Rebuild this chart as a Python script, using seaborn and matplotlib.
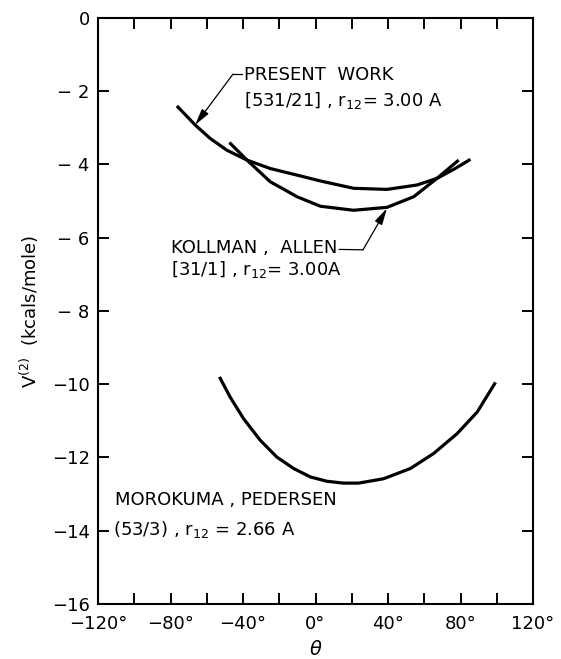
import numpy as np
import pandas as pd
import matplotlib
matplotlib.use("Agg")
import matplotlib.pyplot as plt
import seaborn as sns

# ---------------- data ----------------
present_theta = [-76.5, -66.4, -58.1, -48.9, -37.8, -25.0, -10.2, 2.7, 21.0, 39.5, 56.0, 67.0, 76.0, 85.5]
present_v = [-2.40, -2.92, -3.29, -3.61, -3.88, -4.11, -4.29, -4.45, -4.65, -4.68, -4.56, -4.38, -4.14, -3.86]

kollman_theta = [-47.5, -37.8, -25.0, -10.2, 2.7, 21.0, 39.5, 54.2, 67.0, 79.0]
kollman_v = [-3.40, -3.88, -4.47, -4.88, -5.14, -5.25, -5.17, -4.88, -4.38, -3.88]

morokuma_theta = [-53.0, -47.1, -39.7, -30.5, -21.3, -12.1, -2.9, 6.3, 15.5, 23.8,
                  37.6, 52.4, 65.2, 78.1, 89.2, 99.3]
morokuma_v = [-9.80, -10.35, -10.94, -11.53, -11.99, -12.30, -12.53, -12.65, -12.70, -12.70,
              -12.58, -12.30, -11.89, -11.35, -10.76, -9.95]

x_ticks = [-120, -80, -40, 0, 40, 80, 120]
x_tick_labels = ["\u2212120\u00b0", "\u221280\u00b0", "\u221240\u00b0", "0\u00b0", "40\u00b0", "80\u00b0", "120\u00b0"]
x_minor_ticks = [-100, -60, -20, 20, 60, 100]
y_ticks = [0, -2, -4, -6, -8, -10, -12, -14, -16]
y_tick_labels = ["0", "\u2212 2", "\u2212 4", "\u2212 6", "\u2212 8", "\u221210", "\u221212", "\u221214", "\u221216"]

present_label = ["PRESENT  WORK", "[531/21] , r$_{12}$= 3.00 A"]
kollman_label = ["KOLLMAN ,  ALLEN", "[31/1] , r$_{12}$= 3.00A"]
morokuma_label = ["MOROKUMA , PEDERSEN", "(53/3) , r$_{12}$ = 2.66 A"]

# ---------------- style ----------------
sns.set_theme(style="ticks")
plt.rcParams["font.family"] = ["DejaVu Sans"]
plt.rcParams["mathtext.fontset"] = "dejavusans"

fig = plt.figure(figsize=(5.61, 6.59), dpi=100)
ax = fig.add_axes([0.1747, 0.0835, 0.7754, 0.8892])

df = pd.concat([
    pd.DataFrame({"theta": present_theta, "V": present_v, "curve": "present"}),
    pd.DataFrame({"theta": kollman_theta, "V": kollman_v, "curve": "kollman"}),
    pd.DataFrame({"theta": morokuma_theta, "V": morokuma_v, "curve": "morokuma"}),
])
for name in ["present", "kollman", "morokuma"]:
    sns.lineplot(data=df[df.curve == name], x="theta", y="V", sort=False,
                 estimator=None, color="black", lw=2.3, ax=ax,
                 solid_joinstyle="round", solid_capstyle="butt")

ax.set_xlim(-120, 120)
ax.set_ylim(-16, 0)
ax.set_xticks(x_ticks)
ax.set_xticklabels(x_tick_labels)
ax.set_xticks(x_minor_ticks, minor=True)
ax.set_yticks(y_ticks)
ax.set_yticklabels(y_tick_labels)
ax.tick_params(which="both", direction="in", length=8, width=1.4, top=True, right=True,
               color="black")
ax.tick_params(axis="x", which="major", pad=8, labelsize=13, labelcolor="black")
ax.tick_params(axis="y", which="major", pad=6, labelsize=13, labelcolor="black")
for s in ax.spines.values():
    s.set_linewidth(1.5)
    s.set_color("black")
ax.set_xlabel("")
ax.set_ylabel("")

fig.text(0.053, 0.527, "V$^{(2)}$  (kcals/mole)", rotation=90, ha="center", va="center",
         fontsize=13, color="black")
fig.text(0.562, 0.014, r"$\theta$", ha="center", va="center", fontsize=14, color="black")

fs = 13
arrow_style = "-|>,head_length=1.0,head_width=0.25"
# annotations
ax.text(-39.5, -1.56, present_label[0], fontsize=fs, ha="left", va="center", color="black")
ax.text(-39.5, -2.24, present_label[1], fontsize=fs, ha="left", va="center", color="black")
ax.plot([-45.5, -40.5], [-1.53, -1.53], color="black", lw=0.9)
ax.annotate("", xy=(-66.4, -2.92), xytext=(-45.5, -1.53),
            arrowprops=dict(arrowstyle=arrow_style, lw=0.9,
                            color="black", mutation_scale=10, shrinkA=0, shrinkB=0))

k_txt = ax.text(-79.7, -6.28, kollman_label[0], fontsize=fs, ha="left", va="center", color="black")
ax.text(-79.7, -6.88, kollman_label[1], fontsize=fs, ha="left", va="center", color="black")
ax.annotate("", xy=(26.2, -6.33), xycoords="data", xytext=(1.01, 0.42), textcoords=k_txt,
            arrowprops=dict(arrowstyle="-", lw=0.9, color="black", shrinkA=0, shrinkB=0))
ax.annotate("", xy=(39.4, -5.2), xytext=(26.2, -6.33),
            arrowprops=dict(arrowstyle=arrow_style, lw=0.9,
                            color="black", mutation_scale=10, shrinkA=0, shrinkB=0))

ax.text(-110.6, -13.16, morokuma_label[0], fontsize=fs, ha="left", va="center", color="black")
ax.text(-111.7, -13.98, morokuma_label[1], fontsize=fs, ha="left", va="center", color="black")

fig.savefig("out.png", dpi=100, facecolor="white")
